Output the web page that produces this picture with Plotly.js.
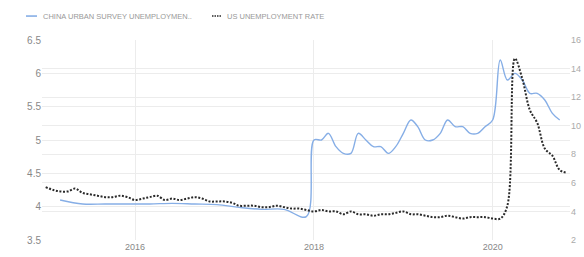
<!DOCTYPE html>
<html>
<head>
<meta charset="utf-8">
<script src="https://cdn.plot.ly/plotly-3.0.1.min.js"></script>
<style>
html,body{margin:0;padding:0;background:#fff;}
#chart{width:584px;height:257px;}
</style>
</head>
<body>
<div id="chart"></div>
<script>
// ---- data ----
var usDates = [
 "2015-01-01","2015-02-01","2015-03-01","2015-04-01","2015-05-01","2015-06-01","2015-07-01","2015-08-01","2015-09-01","2015-10-01","2015-11-01","2015-12-01",
 "2016-01-01","2016-02-01","2016-03-01","2016-04-01","2016-05-01","2016-06-01","2016-07-01","2016-08-01","2016-09-01","2016-10-01","2016-11-01","2016-12-01",
 "2017-01-01","2017-02-01","2017-03-01","2017-04-01","2017-05-01","2017-06-01","2017-07-01","2017-08-01","2017-09-01","2017-10-01","2017-11-01","2017-12-01",
 "2018-01-01","2018-02-01","2018-03-01","2018-04-01","2018-05-01","2018-06-01","2018-07-01","2018-08-01","2018-09-01","2018-10-01","2018-11-01","2018-12-01",
 "2019-01-01","2019-02-01","2019-03-01","2019-04-01","2019-05-01","2019-06-01","2019-07-01","2019-08-01","2019-09-01","2019-10-01","2019-11-01","2019-12-01",
 "2020-01-01","2020-02-01","2020-03-01","2020-04-01","2020-05-01","2020-06-01","2020-07-01","2020-08-01","2020-09-01","2020-10-01","2020-11-01"
];
var usRate = [
 5.7,5.5,5.4,5.4,5.6,5.3,5.2,5.1,5.0,5.0,5.1,5.0,
 4.8,4.9,5.0,5.1,4.8,4.9,4.8,4.9,5.0,4.9,4.7,4.7,
 4.7,4.6,4.4,4.4,4.4,4.3,4.3,4.4,4.3,4.2,4.2,4.1,
 4.0,4.1,4.0,4.0,3.8,4.0,3.8,3.8,3.7,3.8,3.8,3.9,
 4.0,3.8,3.8,3.7,3.6,3.6,3.7,3.6,3.5,3.6,3.6,3.6,
 3.5,3.5,4.4,14.7,13.3,11.1,10.2,8.4,7.9,6.9,6.7
];
var chinaDates = [
 "2015-03-01","2015-06-01","2015-09-01","2015-12-01",
 "2016-03-01","2016-06-01","2016-09-01","2016-12-01",
 "2017-03-01","2017-06-01","2017-09-01","2017-12-01",
 "2018-01-01","2018-02-01","2018-03-01","2018-04-01","2018-05-01","2018-06-01","2018-07-01","2018-08-01","2018-09-01","2018-10-01","2018-11-01","2018-12-01",
 "2019-01-01","2019-02-01","2019-03-01","2019-04-01","2019-05-01","2019-06-01","2019-07-01","2019-08-01","2019-09-01","2019-10-01","2019-11-01","2019-12-01",
 "2020-01-01","2020-02-01","2020-03-01","2020-04-01","2020-05-01","2020-06-01","2020-07-01","2020-08-01","2020-09-01","2020-10-01"
];
var chinaRate = [
 4.10,4.04,4.04,4.04,
 4.04,4.05,4.04,4.03,
 3.99,3.96,3.96,3.85,
 5.0,5.0,5.1,4.9,4.8,4.8,5.1,5.0,4.9,4.9,4.8,4.9,
 5.1,5.3,5.2,5.0,5.0,5.1,5.3,5.2,5.2,5.1,5.1,5.2,
 5.3,6.2,5.9,6.0,5.9,5.7,5.7,5.6,5.4,5.3
];
var seriesNames = ["CHINA URBAN SURVEY UNEMPLOYMEN..", "US UNEMPLOYMENT RATE"];
var leftTicks = [3.5,4,4.5,5,5.5,6,6.5];
var leftTickText = ["3.5","4","4.5","5","5.5","6","6.5"];
var rightTicks = [2,4,6,8,10,12,14,16];
var rightTickText = ["2","4","6","8","10","12","14","16"];
var xTicks = ["2016-01-01","2018-01-01","2020-01-01"];
var xTickText = ["2016","2018","2020"];

// ---- layout helpers ----
var W = 584, H = 257;
var M = {l:42, r:14, t:40, b:16.5};
var pw = W - M.l - M.r, ph = H - M.t - M.b;
function px2x(p){ return (p - M.l) / pw; }
function py2y(p){ return (H - M.b - p) / ph; }

var blue = "#86aee6";
var dark = "#2a2a2a";
var gridC = "#ececec";
var font = "Liberation Sans, Arial, sans-serif";

var traces = [
 {x: chinaDates, y: chinaRate, name: seriesNames[0], type: "scatter", mode: "lines",
  line: {color: blue, width: 1.4, shape: "spline", smoothing: 1}, yaxis: "y", hoverinfo: "skip"},
 {x: usDates, y: usRate, name: seriesNames[1], type: "scatter", mode: "lines",
  line: {color: dark, width: 2, dash: "2px,1.6px", shape: "spline", smoothing: 1}, yaxis: "y2", hoverinfo: "skip"}
];

var legY = 16;
var layout = {
 width: W, height: H,
 margin: M,
 paper_bgcolor: "#fff", plot_bgcolor: "#fff",
 showlegend: false,
 font: {family: font, color: "#888"},
 xaxis: {
  type: "date", range: ["2014-12-17", "2020-11-12"],
  tickvals: xTicks, ticktext: xTickText,
  showgrid: true, gridcolor: gridC, gridwidth: 1,
  zeroline: false, showline: false, ticks: "",
  tickfont: {size: 9, color: "#888", family: font}
 },
 yaxis: {
  range: [3.5, 6.5], tickvals: leftTicks, ticktext: leftTickText,
  showgrid: true, gridcolor: gridC, gridwidth: 1,
  zeroline: false, showline: false, ticks: "",
  tickfont: {size: 10, color: "#888", family: font}
 },
 yaxis2: {
  range: [2, 16], tickvals: rightTicks, ticktext: rightTickText,
  overlaying: "y", side: "right",
  showgrid: true, gridcolor: gridC, gridwidth: 1,
  zeroline: false, showline: false, ticks: "",
  tickfont: {size: 9, color: "#aaa", family: font}
 },
 shapes: [
  {type: "line", xref: "paper", yref: "paper", x0: px2x(26), x1: px2x(37), y0: py2y(legY), y1: py2y(legY),
   line: {color: blue, width: 1.6}},
  {type: "line", xref: "paper", yref: "paper", x0: px2x(212), x1: px2x(222), y0: py2y(legY), y1: py2y(legY),
   line: {color: dark, width: 1.6, dash: "1.5px,1px"}}
 ],
 annotations: [
  {xref: "paper", yref: "paper", x: px2x(41), y: py2y(legY), xanchor: "left", yanchor: "middle",
   text: seriesNames[0], showarrow: false, font: {size: 7.5, color: "#999", family: font}},
  {xref: "paper", yref: "paper", x: px2x(225), y: py2y(legY), xanchor: "left", yanchor: "middle",
   text: seriesNames[1], showarrow: false, font: {size: 7.5, color: "#999", family: font}}
 ]
};

Plotly.newPlot("chart", traces, layout, {staticPlot: true, displayModeBar: false});
</script>
</body>
</html>
